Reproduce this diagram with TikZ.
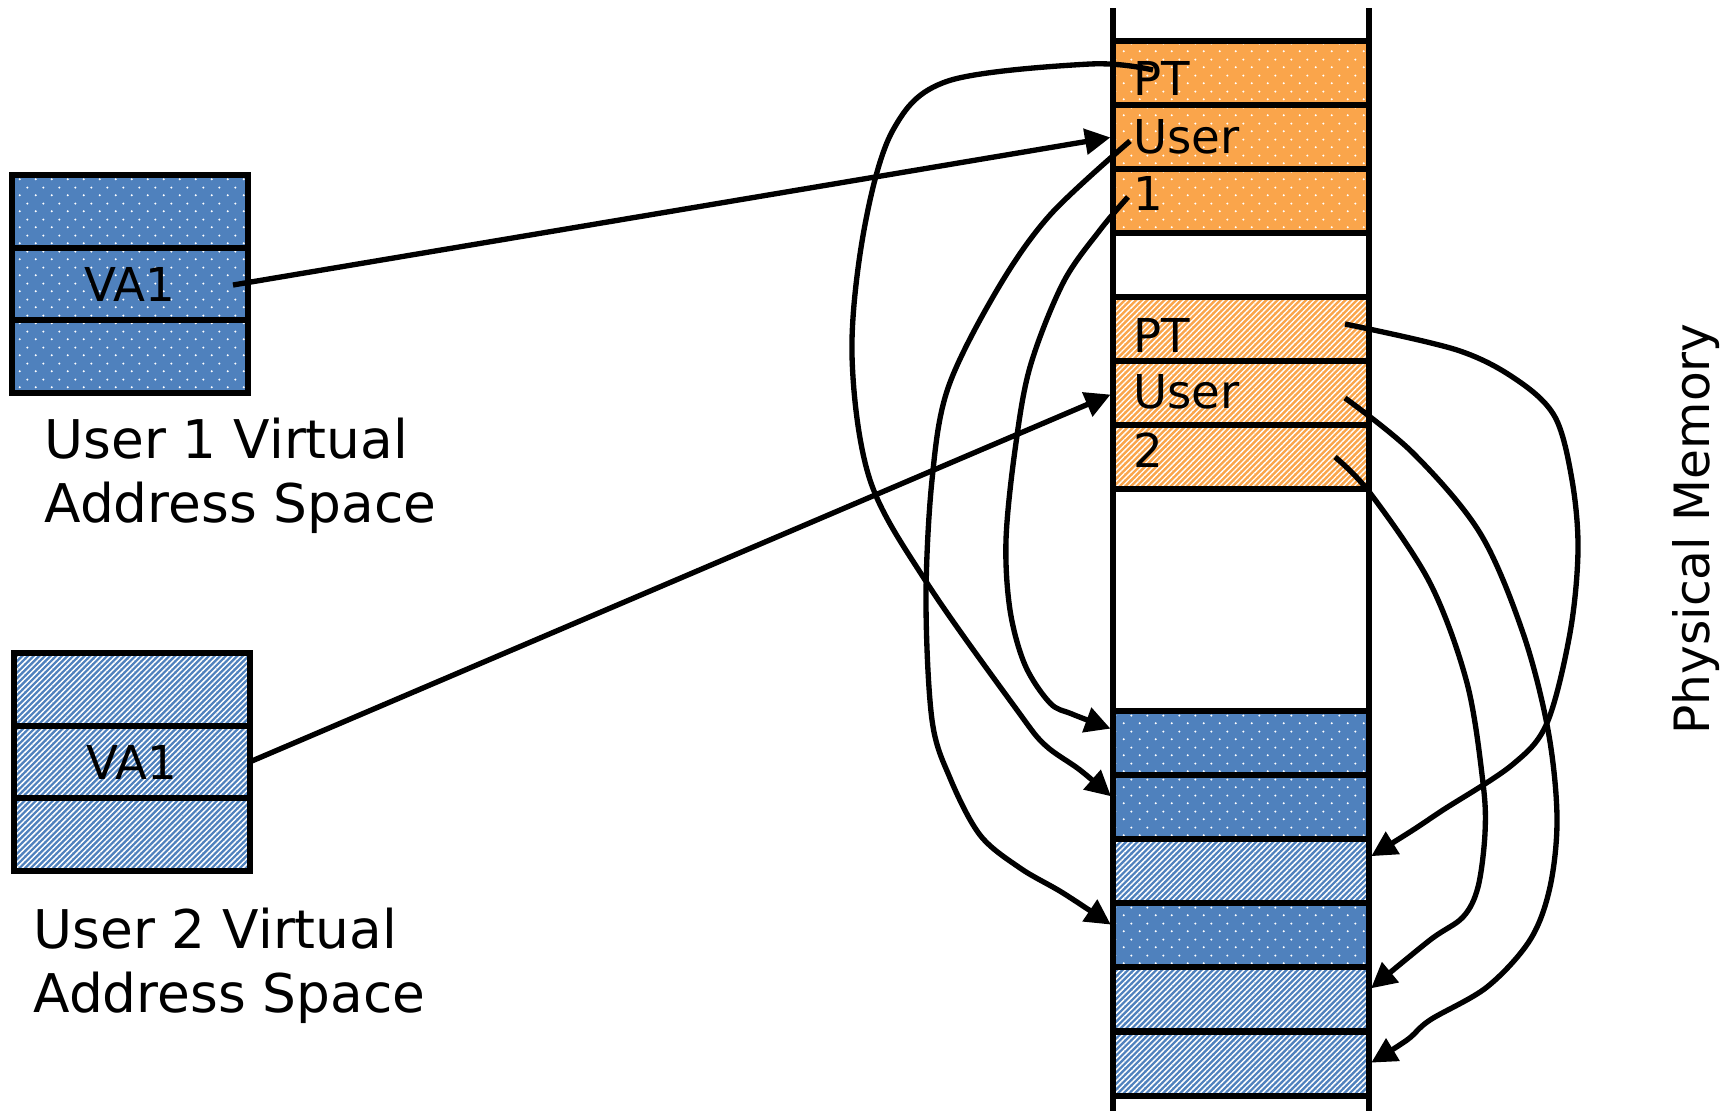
\documentclass[tikz,border=0pt]{standalone}
\usepackage{fontspec}
\setmainfont{DejaVu Sans}
\usetikzlibrary{arrows.meta,patterns.meta}

\definecolor{pageorange}{RGB}{250,165,75}
\definecolor{pageblue}{RGB}{79,129,189}

\tikzdeclarepattern{
  name=pagedots,
  type=uncolored,
  bottom left={(0pt,0pt)},
  top right={(12pt,12pt)},
  tile size={(12pt,12pt)},
  code={
    \fill (3pt,3pt) circle [radius=0.9pt];
    \fill (9pt,9pt) circle [radius=0.9pt];
  }
}

\tikzset{every picture/.style={line width=0.75pt}}
\tikzset{
  slot/.style={draw, line width=4.5pt, minimum width=192pt, minimum height=48.15pt, inner sep=0pt, outer sep=0pt},
  vslot/.style={draw, line width=4.5pt, minimum width=177pt, minimum height=54.4pt, inner sep=0pt, outer sep=0pt, font=\fontsize{35}{42}\selectfont},
  orangedots/.style={preaction={fill=pageorange}, pattern=pagedots, pattern color=white},
  orangelines/.style={preaction={fill=pageorange}, pattern={Lines[angle=45,distance=3pt,line width=1pt]}, pattern color=white},
  bluedots/.style={preaction={fill=pageblue}, pattern=pagedots, pattern color=white},
  bluelines/.style={preaction={fill=pageblue}, pattern={Lines[angle=45,distance=3pt,line width=1.1pt]}, pattern color=white},
  memtxt/.style={font=\fontsize{35}{42}\selectfont, inner sep=0pt, anchor=base west},
  spacetxt/.style={font=\fontsize{40}{48}\selectfont, inner sep=0pt, anchor=base west},
  link/.style={line width=4pt, -{Triangle[length=19pt,width=19pt]}, shorten >=2pt},
}

\begin{document}
\begin{tikzpicture}[x=0.75pt,y=0.75pt,yscale=-1,xscale=1]
	\useasboundingbox (0,0) rectangle (1725,1111);

	% memory column
	\draw [line width=4.5pt] (1113,8) -- (1113,1111) ;
	\draw [line width=4.5pt] (1369,8) -- (1369,1111) ;

	% user 1 page table frames
	\node [slot, orangedots] (o1) at (1241,73) {};
	\node [slot, orangedots] (o2) at (1241,137) {};
	\node [slot, orangedots] (o3) at (1241,201) {};
	% user 2 page table frames
	\node [slot, orangelines] (p1) at (1241,329) {};
	\node [slot, orangelines] (p2) at (1241,393.5) {};
	\node [slot, orangelines] (p3) at (1241,457) {};
	% data frames
	\node [slot, bluedots] (b1) at (1241,743) {};
	\node [slot, bluedots] (b2) at (1241,807) {};
	\node [slot, bluelines] (b3) at (1241,871) {};
	\node [slot, bluedots] (b4) at (1241,935) {};
	\node [slot, bluelines] (b5) at (1241,999) {};
	\node [slot, bluelines] (b6) at (1241,1064) {};

	% Text Node
	\node [memtxt] (pt1) at (1133,95) {PT};
	\node [memtxt] (us1) at (1133,153) {User};
	\node [memtxt] (one1) at (1133,210) {1};
	\node [memtxt] (pt2) at (1133,352) {PT};
	\node [memtxt] (us2) at (1133,408) {User};
	\node [memtxt] (two2) at (1133,467) {2};

	% virtual address spaces
	\node [vslot, bluedots] (va1top) at (130,211.5) {};
	\node [vslot, bluedots] (va1a) at (130,284) {VA1};
	\node [vslot, bluedots] (va1bot) at (130,356.5) {};
	\node [vslot, bluelines] (va2top) at (131.5,689.5) {};
	\node [vslot, bluelines] (va1b) at (131.5,762) {VA1};
	\node [vslot, bluelines] (va2bot) at (131.5,834.5) {};

	% Text Node
	\node [spacetxt] (u1line) at (44,458) {User 1 Virtual};
	\node [spacetxt] (u1addr) at (44,522) {Address Space};
	\node [spacetxt] (u2line) at (33,948) {User 2 Virtual};
	\node [spacetxt] (u2addr) at (33,1012) {Address Space};
	\node [font=\fontsize{36.5}{44}\selectfont, inner sep=0pt, rotate=90, anchor=base] (phys) at (1709,529) {Physical Memory};

	% connector ends
	\coordinate (va1a-out) at (233,285);
	\coordinate (pt1-out) at (1153,70);
	\coordinate (us1-out) at (1130,141);
	\coordinate (one1-out) at (1128,197);
	\coordinate (pt2-out) at (1345,324);
	\coordinate (us2-out) at (1345,398);
	\coordinate (two2-out) at (1335,457);

	%Straight Lines
	\draw [link] (va1a-out) -- (o2.west) ;
	\draw [link] (va1b.east) -- (p2.west) ;

	%Curve Lines
	\draw [link] plot [smooth, tension=0.55] coordinates {(pt1-out) (1090,64) (948,81) (893,130) (864,230) (852,355) (870,480) (927,583) (1017,710) (1045,745) (1080,770) (b2.176)} ;
	\draw [link] plot [smooth, tension=0.55] coordinates {(us1-out) (1050,215) (997,290) (948,388) (932,480) (926,600) (932,720) (950,778) (980,835) (1020,868) (1063,893) (b4.176)} ;
	\draw [link] plot [smooth, tension=0.55] coordinates {(one1-out) (1100,230) (1063,283) (1030,367) (1015,450) (1006,540) (1010,610) (1025,665) (1050,703) (1072,714) (b1.174)} ;
	\draw [link] plot [smooth, tension=0.55] coordinates {(pt2-out) (1457,350) (1517,380) (1555,417) (1572,480) (1578,550) (1570,633) (1547,723) (1512,765) (1443,810) (1413,830) (b3.6)} ;
	\draw [link] plot [smooth, tension=0.55] coordinates {(us2-out) (1413,453) (1480,533) (1523,633) (1548,730) (1557,817) (1550,887) (1530,940) (1487,987) (1430,1020) (1407,1040) (b6.east)} ;
	\draw [link] plot [smooth, tension=0.55] coordinates {(two2-out) (1370,493) (1430,583) (1467,683) (1483,783) (1485,833) (1478,887) (1463,917) (1430,940) (b5.4)} ;

\end{tikzpicture}
\end{document}
